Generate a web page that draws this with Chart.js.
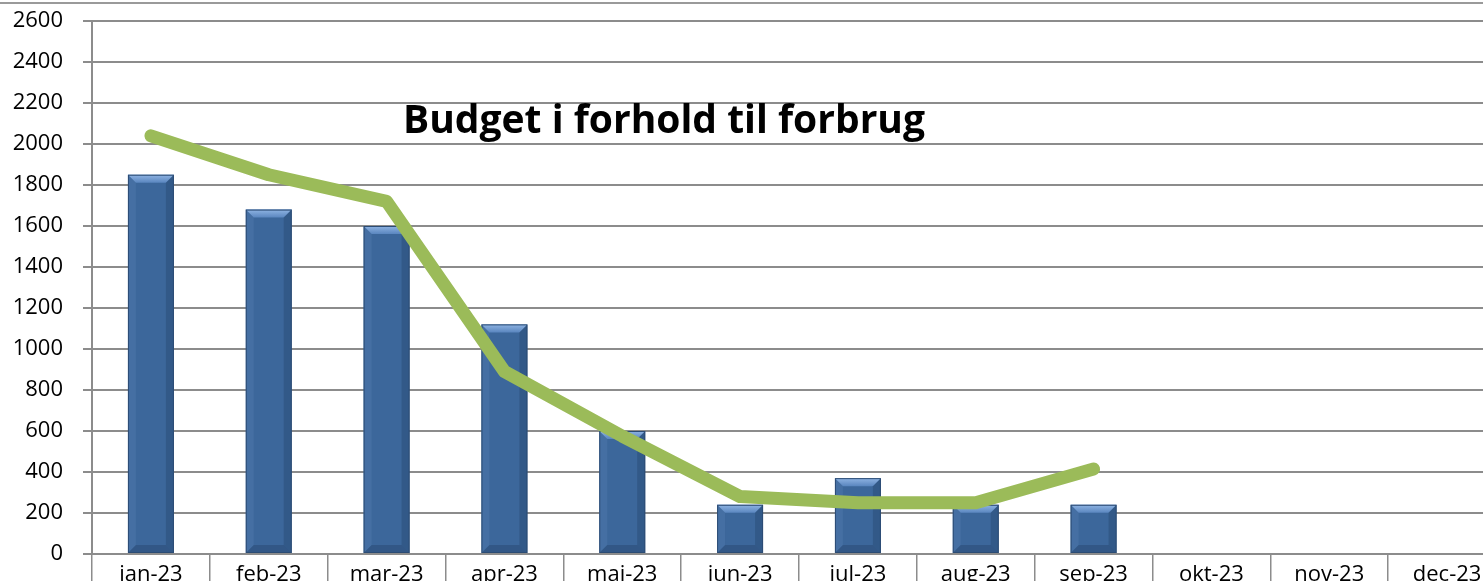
<!DOCTYPE html>
<html>
<head>
<meta charset="utf-8">
<script src="https://cdn.jsdelivr.net/npm/chart.js@4/dist/chart.umd.min.js"></script>
<style>
  html, body { margin: 0; padding: 0; background: #fff; overflow: hidden; }
  #wrap { position: relative; width: 1483px; height: 581px; overflow: hidden; }
  #topline { position: absolute; left: 0; top: 2px; width: 1483px; height: 0; border-top: 2px solid #9a9a9a; }
  #box { position: absolute; left: 0; top: 0; width: 1510px; height: 610px; }
</style>
</head>
<body>
<div id="wrap">
  <div id="box"><canvas id="chart"></canvas></div>
  <div id="topline"></div>
</div>
<script>
const months = ['jan-23', 'feb-23', 'mar-23', 'apr-23', 'maj-23', 'jun-23', 'jul-23', 'aug-23', 'sep-23', 'okt-23', 'nov-23', 'dec-23'];
const forbrug = [1850, 1680, 1600, 1120, 600, 240, 370, 240, 240, null, null, null];
const budget = [2040, 1850, 1720, 890, 575, 280, 250, 250, 415, null, null, null];
const titleText = 'Budget i forhold til forbrug';

const fontFam = '"Open Sans", "Noto Sans", sans-serif';

// bevel look on the bars, like the excel chart
const bevel = {
  id: 'bevel',
  afterDatasetDraw(chart, args) {
    const meta = args.meta;
    if (meta.type !== 'bar') return;
    const vals = chart.data.datasets[args.index].data;
    const ctx = chart.ctx;
    ctx.save();
    meta.data.forEach((bar, i) => {
      if (vals[i] == null) return;
      const l = bar.x - bar.width / 2, r = bar.x + bar.width / 2;
      const t = bar.y, b = bar.base;
      const d = Math.min(8, (b - t) / 2);
      // top facet
      let g = ctx.createLinearGradient(0, t, 0, t + d);
      g.addColorStop(0, '#8fb4e3');
      g.addColorStop(1, '#5a86bf');
      ctx.fillStyle = g;
      ctx.beginPath();
      ctx.moveTo(l, t); ctx.lineTo(r, t); ctx.lineTo(r - d, t + d); ctx.lineTo(l + d, t + d);
      ctx.closePath(); ctx.fill();
      // left facet
      ctx.fillStyle = 'rgba(110,150,200,0.18)';
      ctx.beginPath();
      ctx.moveTo(l, t); ctx.lineTo(l + d, t + d); ctx.lineTo(l + d, b - d); ctx.lineTo(l, b);
      ctx.closePath(); ctx.fill();
      // right facet
      ctx.fillStyle = 'rgba(20,40,70,0.22)';
      ctx.beginPath();
      ctx.moveTo(r, t); ctx.lineTo(r - d, t + d); ctx.lineTo(r - d, b - d); ctx.lineTo(r, b);
      ctx.closePath(); ctx.fill();
      // bottom facet
      ctx.fillStyle = 'rgba(20,40,70,0.25)';
      ctx.beginPath();
      ctx.moveTo(l, b); ctx.lineTo(l + d, b - d); ctx.lineTo(r - d, b - d); ctx.lineTo(r, b);
      ctx.closePath(); ctx.fill();
      ctx.strokeStyle = '#2c4c74';
      ctx.lineWidth = 1;
      ctx.strokeRect(l + 0.5, t + 0.5, r - l - 1, b - t - 1);
    });
    ctx.restore();
  }
};

// title sits inside the plot area
const overlayTitle = {
  id: 'overlayTitle',
  afterDraw(chart) {
    const ctx = chart.ctx;
    ctx.save();
    ctx.font = 'bold 39px ' + fontFam;
    ctx.fillStyle = '#000';
    ctx.textAlign = 'center';
    ctx.textBaseline = 'alphabetic';
    ctx.fillText(titleText, 664, 133);
    ctx.restore();
  }
};

new Chart(document.getElementById('chart'), {
  data: {
    labels: months,
    datasets: [
      {
        type: 'line',
        label: 'Budget',
        data: budget,
        borderColor: '#9bbb59',
        borderWidth: 13,
        borderCapStyle: 'round',
        borderJoinStyle: 'round',
        pointRadius: 0,
        tension: 0,
        spanGaps: false,
        order: 0
      },
      {
        type: 'bar',
        label: 'Forbrug',
        data: forbrug,
        backgroundColor: '#3c679b',
        barPercentage: 0.39,
        categoryPercentage: 1,
        order: 1
      }
    ]
  },
  options: {
    responsive: true,
    maintainAspectRatio: false,
    animation: false,
    layout: { padding: { top: 21, right: 4, left: 0, bottom: 0 } },
    plugins: {
      legend: { display: false },
      tooltip: { enabled: false }
    },
    scales: {
      x: {
        offset: true,
        afterFit(scale) { scale.height = 56; },
        grid: {
          offset: true,
          drawOnChartArea: false,
          drawTicks: true,
          tickLength: 50,
          color: '#8c8c8c',
          lineWidth: 1.5
        },
        border: { color: '#8c8c8c', width: 2 },
        ticks: {
          padding: -42,
          color: '#000',
          font: { family: fontFam, size: 22 },
          maxRotation: 0,
          autoSkip: false
        }
      },
      y: {
        min: 0,
        max: 2600,
        afterFit(scale) {
          scale.width = 92;
          scale.paddingTop = 0;
          scale.paddingBottom = 0;
        },
        ticks: {
          stepSize: 200,
          padding: 20,
          color: '#000',
          font: { family: fontFam, size: 22 },
          callback: v => String(v)
        },
        grid: {
          color: '#8c8c8c',
          lineWidth: 2,
          tickLength: 9
        },
        border: { color: '#8c8c8c', width: 2 }
      }
    }
  },
  plugins: [bevel, overlayTitle]
});
</script>
</body>
</html>
